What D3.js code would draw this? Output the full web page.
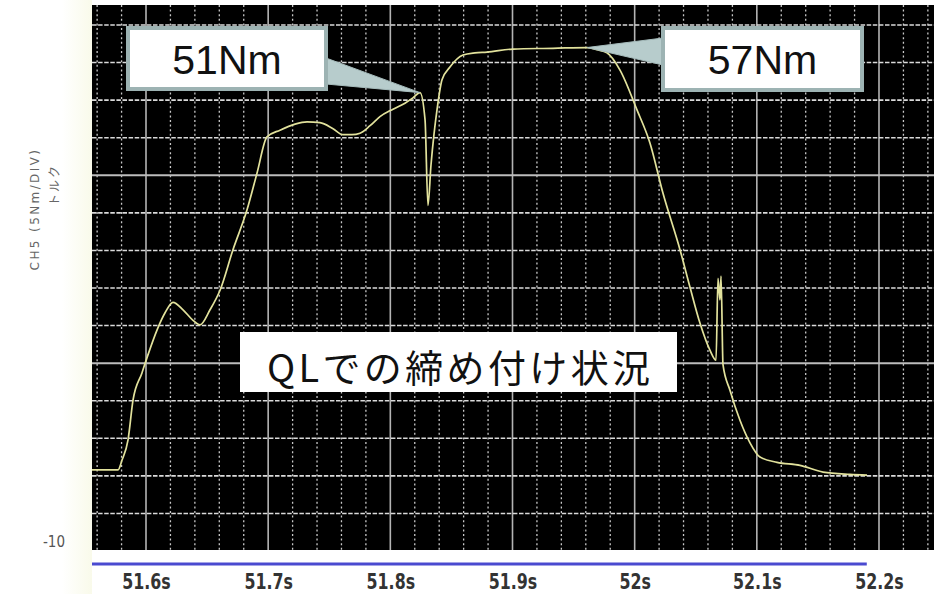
<!DOCTYPE html>
<html>
<head>
<meta charset="utf-8">
<script src="https://cdn.jsdelivr.net/npm/d3@7"></script>
<style>
  html, body { margin: 0; padding: 0; background: #fff; }
  svg { display: block; }
</style>
</head>
<body>
<svg id="chart" width="934" height="594"></svg>
<script>
// Torque trace (CH5) during tightening, time in seconds
const times = [
  51.5558, 51.5664, 51.5771, 51.5804, 51.5853, 51.5894, 51.5967, 51.6016, 51.6090, 51.6156,
  51.6221, 51.6303, 51.6385, 51.6442, 51.6524, 51.6606, 51.6712, 51.6827, 51.6909, 51.6990,
  51.7097, 51.7220, 51.7318, 51.7424, 51.7531, 51.7613, 51.7686, 51.7752, 51.7834, 51.7915,
  51.8022, 51.8120, 51.8185, 51.8243, 51.8284, 51.8308, 51.8333, 51.8357, 51.8382, 51.8423,
  51.8488, 51.8595, 51.8693, 51.8791, 51.9004, 51.9331, 51.9610, 51.9692, 51.9773, 51.9880,
  52.0019, 52.0125, 52.0232, 52.0371, 52.0453, 52.0535, 52.0617, 52.0666, 52.0682, 52.0698,
  52.0707, 52.0723, 52.0780, 52.0862, 52.0944, 52.1026, 52.1165, 52.1353, 52.1542, 52.1762,
  52.1902
];
const torque = [
  0.8, 0.8, 0.8, 2.1, 4.8, 10.1, 13.7, 16.1, 19.4, 21.7,
  23.1, 22.1, 20.7, 20.1, 22.1, 24.7, 30.1, 35.4, 40.3, 45.1,
  46.0, 46.8, 47.1, 47.0, 46.2, 45.4, 45.4, 45.6, 46.6, 47.8,
  48.8, 49.6, 50.3, 51.0, 47.4, 36.0, 41.4, 45.4, 48.7, 52.7,
  54.4, 56.0, 56.3, 56.4, 56.8, 56.9, 57.0, 56.7, 56.3, 54.0,
  48.7, 44.3, 37.6, 30.1, 25.1, 20.3, 16.7, 15.4, 26.3, 23.4,
  26.6, 14.8, 11.4, 7.4, 4.4, 2.5, 1.8, 1.4, 0.5, 0.2,
  0.1
];

const xTicks = [51.6, 51.7, 51.8, 51.9, 52.0, 52.1, 52.2];
const xTickLabels = ["51.6s", "51.7s", "51.8s", "51.9s", "52s", "52.1s", "52.2s"];
const yTicks = [-10];
const yTickLabels = ["-10"];
const axisTitle = ["CH5 (5Nm/DIV)", "トルク"];

// Annotated values on the trace
const calloutTimes = [51.8243, 51.9610];
const calloutValues = [51, 57];
const calloutLabels = ["51Nm", "57Nm"];
const caption = "QLでの締め付け状況";

const svg = d3.select("#chart");
const W = 934, H = 594;
const plot = { left: 92, right: 934, top: 5, bottom: 550 };

const x = d3.scaleLinear().domain([51.6, 52.2]).range([146, 879]);
const y = d3.scaleLinear().domain([-10, 60]).range([551, 25]);

// faint tint left of the screen area
const defs = svg.append("defs");
const tint = defs.append("linearGradient").attr("id", "tint").attr("x1", 0).attr("x2", 1);
tint.append("stop").attr("offset", 0).attr("stop-color", "#ffffff");
tint.append("stop").attr("offset", 1).attr("stop-color", "#f9faea");
svg.append("rect").attr("x", 62).attr("y", 0).attr("width", plot.left - 62).attr("height", H)
  .attr("fill", "url(#tint)");

defs.append("clipPath").attr("id", "plotClip")
  .append("rect").attr("x", plot.left).attr("y", plot.top)
  .attr("width", plot.right - plot.left).attr("height", plot.bottom - plot.top);

// screen
svg.append("rect")
  .attr("x", plot.left).attr("y", plot.top)
  .attr("width", plot.right - plot.left).attr("height", plot.bottom - plot.top)
  .attr("fill", "#000");

const grid = svg.append("g").attr("clip-path", "url(#plotClip)");

// vertical divisions: every 0.02 s, solid every 0.1 s
const vIdx = d3.range(2578, 2613);
grid.selectAll("line.vminor").data(vIdx.filter(i => i % 5 !== 0)).join("line")
  .attr("x1", i => x(i / 50)).attr("x2", i => x(i / 50))
  .attr("y1", plot.top).attr("y2", plot.bottom)
  .attr("stroke", "#c8c8c8").attr("stroke-width", 1.3).attr("stroke-dasharray", "2,2.6");
grid.selectAll("line.vmajor").data(vIdx.filter(i => i % 5 === 0)).join("line")
  .attr("x1", i => x(i / 50)).attr("x2", i => x(i / 50))
  .attr("y1", plot.top).attr("y2", plot.bottom)
  .attr("stroke", "#b4b4b4").attr("stroke-width", 1.6);

// horizontal divisions: every 5 Nm, solid every 25 Nm
const hVals = d3.range(-5, 65, 5);
grid.selectAll("line.hminor").data(hVals.filter(v => (v + 10) % 25 !== 0)).join("line")
  .attr("x1", plot.left).attr("x2", plot.right)
  .attr("y1", v => y(v)).attr("y2", v => y(v))
  .attr("stroke", "#dadada").attr("stroke-width", 1.6).attr("stroke-dasharray", "4.5,1.6");
grid.selectAll("line.hmajor").data(hVals.filter(v => (v + 10) % 25 === 0)).join("line")
  .attr("x1", plot.left).attr("x2", plot.right)
  .attr("y1", v => y(v)).attr("y2", v => y(v))
  .attr("stroke", "#bcbcbc").attr("stroke-width", 2);

// torque trace
const pts = times.map((t, i) => ({ t, v: torque[i] }));
grid.append("path")
  .datum(pts)
  .attr("fill", "none")
  .attr("stroke", "#e2e29c")
  .attr("stroke-width", 1.7)
  .attr("stroke-linejoin", "round")
  .attr("d", d3.line().x(d => x(d.t)).y(d => y(d.v)).curve(d3.curveMonotoneX));

// x axis: blue rule and labels
svg.append("line")
  .attr("x1", plot.left).attr("x2", x(52.19))
  .attr("y1", 564).attr("y2", 564)
  .attr("stroke", "#4a4ad0").attr("stroke-width", 3);

const xAxis = d3.axisBottom(x).tickValues(xTicks).tickSize(0)
  .tickFormat((d, i) => xTickLabels[i]);
const gx = svg.append("g").attr("transform", "translate(0,570)").call(xAxis);
gx.select(".domain").remove();
gx.selectAll("text")
  .attr("y", 19).attr("dy", 0)
  .attr("transform", "scale(0.8,1)")
  .attr("x", 0)
  .style("font-family", "'Liberation Sans Narrow', 'DejaVu Sans Condensed', sans-serif")
  .style("font-stretch", "condensed")
  .style("font-weight", "bold")
  .style("font-size", "22px")
  .attr("fill", "#333");

// y tick label
svg.selectAll("text.ytick").data(yTicks).join("text")
  .attr("class", "ytick")
  .attr("x", 65).attr("y", v => y(v) - 4)
  .attr("text-anchor", "end")
  .style("font-family", "'Liberation Sans Narrow', 'DejaVu Sans Condensed', sans-serif")
  .style("font-size", "15px")
  .attr("fill", "#555")
  .text((v, i) => yTickLabels[i]);

// y axis title, rotated
svg.append("text")
  .attr("transform", "translate(35,209) rotate(-90)")
  .attr("text-anchor", "middle").attr("dominant-baseline", "central")
  .style("font-family", "'DejaVu Sans', sans-serif")
  .style("font-size", "12px").style("letter-spacing", "2.4px")
  .attr("fill", "#666")
  .text(axisTitle[0]);
svg.append("text")
  .attr("transform", "translate(53,185) rotate(-90)")
  .attr("text-anchor", "middle").attr("dominant-baseline", "central")
  .style("font-family", "'Noto Sans CJK JP', sans-serif")
  .style("font-size", "12px").style("letter-spacing", "2px")
  .attr("fill", "#666")
  .text(axisTitle[1]);

// callouts
const boxes = [
  { x0: 128, x1: 326, y0: 28, y1: 89, side: "right", base: [58, 84] },
  { x0: 663, x1: 862, y0: 28, y1: 90, side: "left", base: [38, 65] }
];
const ann = svg.append("g");
boxes.forEach((b, i) => {
  const tx = x(calloutTimes[i]), ty = y(calloutValues[i]);
  const bx = b.side === "right" ? b.x1 : b.x0;
  ann.append("path")
    .attr("d", `M${bx},${b.base[0]}L${tx},${ty}L${bx},${b.base[1]}Z`)
    .attr("fill", "#b7cccc").attr("stroke", "#a6bcbc").attr("stroke-width", 1);
  ann.append("rect")
    .attr("x", b.x0).attr("y", b.y0).attr("width", b.x1 - b.x0).attr("height", b.y1 - b.y0)
    .attr("fill", "#fff").attr("stroke", "#9db3b3").attr("stroke-width", 4);
  ann.append("text")
    .attr("x", (b.x0 + b.x1) / 2).attr("y", (b.y0 + b.y1) / 2 + 1)
    .attr("text-anchor", "middle").attr("dominant-baseline", "central")
    .style("font-family", "'Liberation Sans', Arial, sans-serif")
    .style("font-size", "41px")
    .attr("fill", "#111")
    .text(calloutLabels[i]);
});

// caption box
svg.append("rect").attr("x", 240).attr("y", 332).attr("width", 437).attr("height", 60).attr("fill", "#fff");
svg.append("text")
  .attr("x", 267).attr("y", 365)
  .attr("dominant-baseline", "central")
  .attr("textLength", 383).attr("lengthAdjust", "spacing")
  .style("font-family", "'Noto Sans CJK JP', sans-serif")
  .style("font-size", "38px")
  .attr("fill", "#111")
  .text(caption);
</script>
</body>
</html>
